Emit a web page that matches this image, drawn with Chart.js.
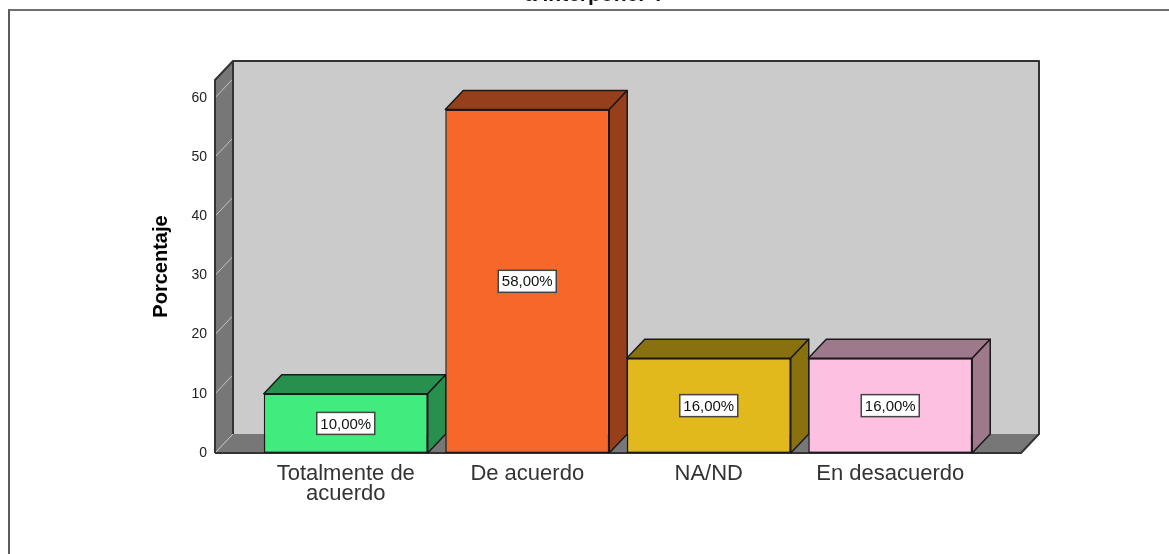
<!DOCTYPE html>
<html>
<head>
<meta charset="utf-8">
<script src="https://cdn.jsdelivr.net/npm/chart.js@4"></script>
<style>
  html, body { margin: 0; background: #fff; overflow: hidden; width: 1169px; height: 554px; }
  #frame { position: absolute; left: 8px; top: 9px; right: 0; bottom: 0; border-left: 2px solid #5c5c5c; border-top: 2px solid #6e6e6e; }
  #barChart { position: absolute; left: 0; top: -15px; }
</style>
</head>
<body>
<div id="frame"></div>
<canvas id="barChart" width="1190" height="569"></canvas>
<script>
const titleText = 'a interponer ?';
const yTitle = 'Porcentaje';
const categories = [['Totalmente de', 'acuerdo'], 'De acuerdo', 'NA/ND', 'En desacuerdo'];
const percentages = [10, 58, 16, 16];
const frontColors = ['#40ec7d', '#f5682a', '#e1b91c', '#fdc0e1'];
const sideColors = ['#27904f', '#973f1a', '#8a7110', '#9e788b'];

const font = 'Liberation Sans';
const depthX = 18;
const depthY = 19;

function poly(ctx, pts, fill, stroke) {
  ctx.beginPath();
  pts.forEach((p, i) => i ? ctx.lineTo(p[0], p[1]) : ctx.moveTo(p[0], p[1]));
  ctx.closePath();
  if (fill) { ctx.fillStyle = fill; ctx.fill(); }
  if (stroke) { ctx.strokeStyle = stroke; ctx.stroke(); }
}

// fake 3D box: walls, floor and the side/top of each bar
const box3d = {
  id: 'box3d',
  beforeDatasetsDraw(chart) {
    const ctx = chart.ctx;
    const yScale = chart.scales.y;
    const top = yScale.top, bottom = yScale.bottom;
    const left = 215, right = 1021;
    ctx.save();
    ctx.lineJoin = 'round';
    poly(ctx, [[left + depthX, top - depthY], [right + depthX, top - depthY], [right + depthX, bottom - depthY], [left + depthX, bottom - depthY]], '#cbcbcb');
    poly(ctx, [[left, top], [left + depthX, top - depthY], [left + depthX, bottom - depthY], [left, bottom]], '#777777');
    poly(ctx, [[left, bottom], [left + depthX, bottom - depthY], [right + depthX, bottom - depthY], [right, bottom]], '#777777');

    ctx.lineWidth = 1;
    ctx.strokeStyle = '#c4c4c4';
    yScale.ticks.forEach(t => {
      const y = yScale.getPixelForValue(t.value);
      ctx.beginPath();
      ctx.moveTo(left, y);
      ctx.lineTo(left + depthX, y - depthY);
      ctx.stroke();
    });

    ctx.lineWidth = 2;
    ctx.strokeStyle = '#333333';
    ctx.beginPath();
    ctx.moveTo(left, bottom);
    ctx.lineTo(left, top);
    ctx.lineTo(left + depthX, top - depthY);
    ctx.lineTo(right + depthX, top - depthY);
    ctx.lineTo(right + depthX, bottom - depthY);
    ctx.lineTo(right, bottom);
    ctx.lineTo(left, bottom);
    ctx.moveTo(left + depthX, top - depthY);
    ctx.lineTo(left + depthX, bottom - depthY);
    ctx.stroke();

    ctx.lineWidth = 1.5;
    chart.getDatasetMeta(0).data.forEach((bar, i) => {
      const l = bar.x - bar.width / 2, r = bar.x + bar.width / 2;
      poly(ctx, [[l, bar.y], [l + depthX, bar.y - depthY], [r + depthX, bar.y - depthY], [r, bar.y]], sideColors[i], '#1a1a1a');
      poly(ctx, [[r, bar.y], [r + depthX, bar.y - depthY], [r + depthX, bar.base - depthY], [r, bar.base]], sideColors[i], '#1a1a1a');
    });
    ctx.restore();
  },
  afterDatasetsDraw(chart) {
    const ctx = chart.ctx;
    ctx.save();
    ctx.font = '15px "' + font + '"';
    ctx.textAlign = 'center';
    ctx.textBaseline = 'middle';
    chart.getDatasetMeta(0).data.forEach((bar, i) => {
      const cy = (bar.y + bar.base) / 2;
      ctx.fillStyle = '#ffffff';
      ctx.strokeStyle = '#444444';
      ctx.lineWidth = 1.5;
      ctx.fillRect(bar.x - 29, cy - 11, 58, 22);
      ctx.strokeRect(bar.x - 29, cy - 11, 58, 22);
      ctx.fillStyle = '#111111';
      ctx.fillText(percentages[i].toFixed(2).replace('.', ',') + '%', bar.x, cy + 1);
    });
    ctx.restore();
  }
};

new Chart(document.getElementById('barChart').getContext('2d'), {
  type: 'bar',
  data: {
    labels: categories,
    datasets: [{
      data: percentages,
      backgroundColor: frontColors,
      borderColor: '#1a1a1a',
      borderWidth: 1.5,
      borderSkipped: false,
      barPercentage: 0.9035,
      categoryPercentage: 1
    }]
  },
  options: {
    responsive: false,
    animation: false,
    layout: { padding: { left: 149, right: 149, top: 0, bottom: 0 } },
    plugins: {
      legend: { display: false },
      tooltip: { enabled: false },
      title: {
        display: true,
        text: titleText,
        color: '#111111',
        font: { family: font, size: 21, weight: 'bold', lineHeight: 1 },
        padding: { top: 0, bottom: 74 }
      }
    },
    scales: {
      x: {
        grid: { display: false },
        border: { display: false },
        ticks: {
          maxRotation: 0,
          autoSkip: false,
          padding: 3,
          color: '#333333',
          font: { family: font, size: 22, lineHeight: 0.9 }
        },
        afterFit(scale) { scale.height = 101; }
      },
      y: {
        min: 0,
        max: 63,
        grid: { display: false },
        border: { display: false },
        ticks: {
          stepSize: 10,
          padding: 40,
          color: '#222222',
          font: { family: font, size: 14 }
        },
        afterBuildTicks(scale) { scale.ticks = scale.ticks.filter(t => t.value % 10 === 0); },
        title: {
          display: true,
          text: yTitle,
          color: '#000000',
          font: { family: font, size: 20, weight: 'bold' },
          padding: 0
        },
        afterFit(scale) { scale.width = 106; }
      },
      // empty scale, only keeps the space right of the plot so the title centres like the original
      spacer: {
        type: 'linear',
        position: 'right',
        min: 0,
        max: 63,
        grid: { display: false },
        border: { display: false },
        ticks: { display: false },
        afterFit(scale) { scale.width = 60; }
      }
    }
  },
  plugins: [box3d]
});
</script>
</body>
</html>
